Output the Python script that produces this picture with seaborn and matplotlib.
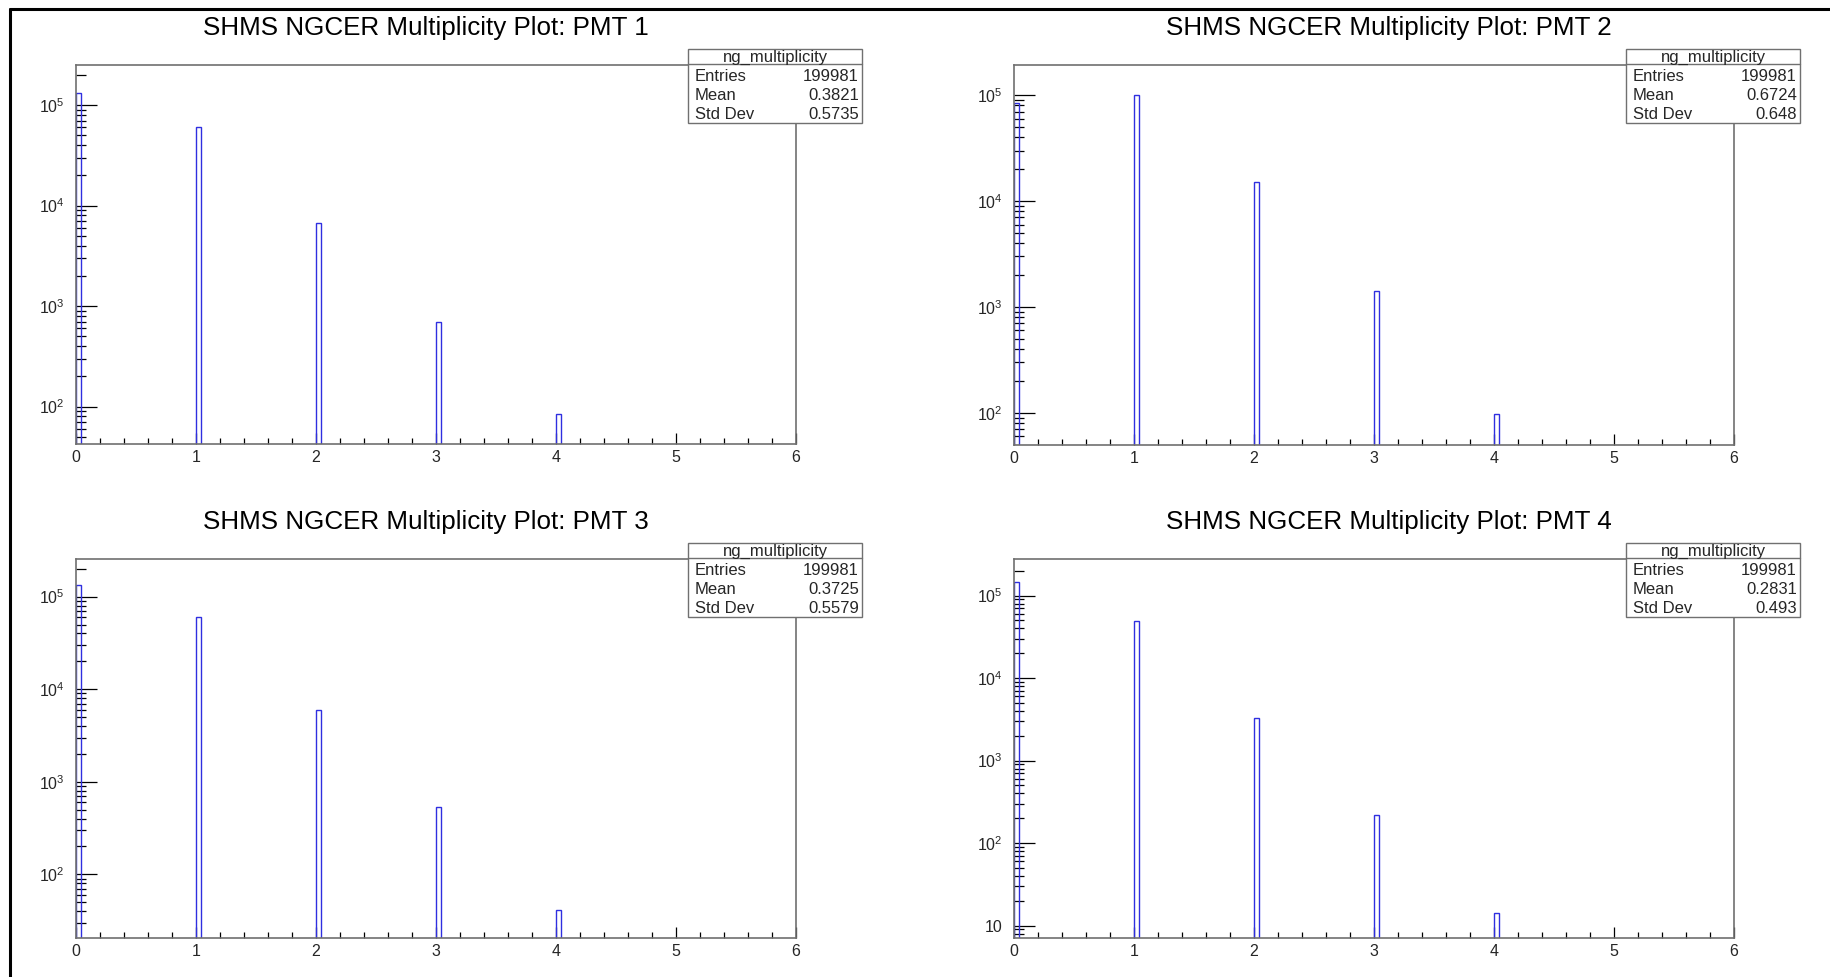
import numpy as np
import pandas as pd
import matplotlib
matplotlib.use("Agg")
import matplotlib.pyplot as plt
import seaborn as sns
from matplotlib.ticker import MultipleLocator, LogLocator, FuncFormatter, NullFormatter
from matplotlib.patches import Rectangle
from matplotlib.lines import Line2D

# ---- data: NGCER multiplicity per PMT (counts per multiplicity value) ----
multiplicity = [0, 1, 2, 3, 4]
pmt1_counts = [131904, 60601, 6700, 692, 84]
pmt2_counts = [83751, 99619, 15083, 1430, 98]
pmt3_counts = [132578, 60932, 5893, 537, 41]
pmt4_counts = [147115, 49363, 3271, 218, 14]
pmt_labels = ["PMT 1", "PMT 2", "PMT 3", "PMT 4"]
stat_entries = ["199981", "199981", "199981", "199981"]
stat_means = ["0.3821", "0.6724", "0.3725", "0.2831"]
stat_stddevs = ["0.5735", "0.648", "0.5579", "0.493"]
y_ranges = [(42.9, 2.5e5), (50.2, 1.93e5), (20.8, 2.55e5), (7.16, 2.78e5)]
hist_name = "ng_multiplicity"

all_counts = [pmt1_counts, pmt2_counts, pmt3_counts, pmt4_counts]

# ---- style ----
sns.set_style("white")
plt.rcParams["font.family"] = ["Liberation Sans", "DejaVu Sans"]
plt.rcParams["mathtext.default"] = "regular"

W, H = 1830, 977
fig = plt.figure(figsize=(W / 100, H / 100), dpi=100)
fig.patch.set_facecolor("white")


def fx(px):
    return px / W


def fy(py):
    return 1 - py / H


# axes frames in pixel coordinates (left, right, top, bottom)
frames = [
    (76, 796, 65, 443.5),
    (1014, 1734, 65, 444.5),
    (76, 796, 559, 937.5),
    (1014, 1734, 559, 937.5),
]
title_x = [426, 1389, 426, 1389]

n_bins = 150
x_range = (0, 6)
bin_w = (x_range[1] - x_range[0]) / n_bins
hist_color = "#2f2fe0"
frame_color = "#707070"


def decade_label(v, pos):
    e = int(round(np.log10(v)))
    if e == 1:
        return "10"
    return rf"$\mathregular{{10^{{{e}}}}}$"


for i, (counts, (l, r, t, b)) in enumerate(zip(all_counts, frames)):
    ax = fig.add_axes([fx(l), fy(b), fx(r - l), (b - t) / H])
    df = pd.DataFrame({
        "multiplicity": np.array(multiplicity, dtype=float) + bin_w / 2,
        "count": counts,
    })
    sns.histplot(data=df, x="multiplicity", weights="count", bins=n_bins,
                 binrange=x_range, element="bars", fill=False, color=hist_color,
                 linewidth=1.0, ax=ax)
    ax.set_yscale("log")
    ax.set_xlim(*x_range)
    ax.set_ylim(*y_ranges[i])
    ax.set_xlabel("")
    ax.set_ylabel("")

    ax.xaxis.set_major_locator(MultipleLocator(1))
    ax.xaxis.set_minor_locator(MultipleLocator(0.2))
    ax.yaxis.set_major_locator(LogLocator(base=10, numticks=20))
    ax.yaxis.set_minor_locator(LogLocator(base=10, subs=np.arange(2, 10), numticks=20))
    ax.yaxis.set_major_formatter(FuncFormatter(decade_label))
    ax.yaxis.set_minor_formatter(NullFormatter())

    ax.tick_params(axis="both", which="both", bottom=True, left=True,
                   top=False, right=False)
    ax.tick_params(axis="x", which="major", direction="in", length=8, width=0.9,
                   color="black", labelsize=11.5, pad=5)
    ax.tick_params(axis="x", which="minor", direction="in", length=4, width=0.9,
                   color="black")
    ax.tick_params(axis="y", which="major", direction="in", length=15, width=0.9,
                   color="black", labelsize=11.5, pad=8)
    ax.tick_params(axis="y", which="minor", direction="in", length=7.5, width=0.9,
                   color="black")
    for s in ax.spines.values():
        s.set_color(frame_color)
        s.set_linewidth(1.2)

    # title above each pad
    fig.text(fx(title_x[i]), fy(t - 37), f"SHMS NGCER Multiplicity Plot: {pmt_labels[i]}",
             ha="center", va="center", fontsize=18.7, color="black")

    # statistics box at the upper right corner of the frame
    bl, br = r - 108, r + 66
    bt, bh, bb = t - 16, t - 1, t + 58
    fig.add_artist(Rectangle((fx(bl), fy(bb)), fx(br - bl), (bb - bt) / H,
                             transform=fig.transFigure, facecolor="white",
                             edgecolor=frame_color, linewidth=1.0, zorder=5))
    fig.add_artist(Line2D([fx(bl), fx(br)], [fy(bh), fy(bh)],
                          transform=fig.transFigure, color=frame_color,
                          linewidth=1.0, zorder=6))
    fig.text(fx((bl + br) / 2), fy((bt + bh) / 2 + 0.5), hist_name, ha="center",
             va="center", fontsize=12, zorder=7)
    rows = [("Entries", stat_entries[i]), ("Mean", stat_means[i]),
            ("Std Dev", stat_stddevs[i])]
    for k, (name, val) in enumerate(rows):
        yy = bh + 12.5 + k * 19.2
        fig.text(fx(bl + 7), fy(yy), name, ha="left", va="center",
                 fontsize=12, zorder=7)
        fig.text(fx(br - 3), fy(yy), val, ha="right", va="center",
                 fontsize=12, zorder=7)

# outer canvas border (top and left edges)
fig.add_artist(Line2D([fx(10), fx(10)], [fy(9), 0], transform=fig.transFigure,
                      color="black", linewidth=2.2))
fig.add_artist(Line2D([fx(10), 1], [fy(9), fy(9)], transform=fig.transFigure,
                      color="black", linewidth=2.2))

fig.savefig("out.png", dpi=100)
